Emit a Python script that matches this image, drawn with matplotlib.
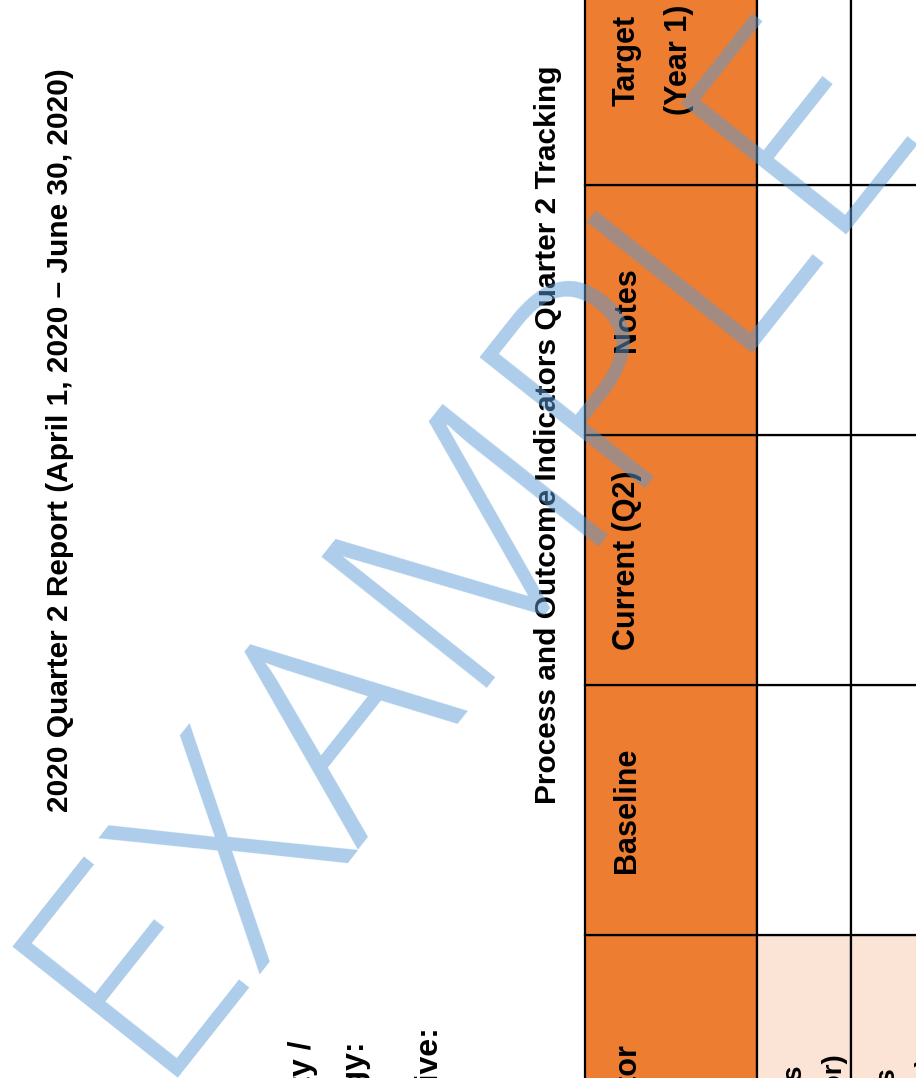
import matplotlib
matplotlib.use("Agg")
import matplotlib.pyplot as plt
from matplotlib.patches import Rectangle

# ---- content ----
title_main = "2020 Quarter 2 Report (April 1, 2020 – June 30, 2020)"
title_table = "Process and Outcome Indicators Quarter 2 Tracking"
side_labels = ["Priority /", "Strategy:", "Objective:"]
columns = ["Indicator", "Baseline", "Current (Q2)", "Notes", "Target\n(Year 1)"]
row_labels = [["Process Indicators", "(Indicator)"],
              ["Outcome Indicators", "(Indicator)"]]
watermark = "EXAMPLE"

ORANGE = "#ED7D31"
PEACH = "#FBE4D5"
WM = "#5B9BD5"

W, H = 916, 1078
fig = plt.figure(figsize=(W / 100, H / 100), dpi=100)
ax = fig.add_axes([0, 0, 1, 1])
ax.set_xlim(0, W)
ax.set_ylim(H, 0)
ax.axis("off")

BOLD = dict(family=["Liberation Sans", "DejaVu Sans"], fontweight="bold")

# titles (rotated page)
ax.text(68, 440, title_main, rotation=90, rotation_mode="anchor",
        ha="center", va="baseline", fontsize=21.5, color="black", **BOLD)
ax.text(556, 435, title_table, rotation=90, rotation_mode="anchor",
        ha="center", va="baseline", fontsize=21.5, color="black", **BOLD)

# side labels (cut by page edge)
side_x = [311, 363, 437]
side_end = [1040, 1040, 1025]
for lab, x, ye in zip(side_labels, side_x, side_end):
    ax.text(x, ye, lab, rotation=90, rotation_mode="anchor",
            ha="right", va="baseline", fontsize=23, color="black", **BOLD)

# table geometry (page rotated 90 deg)
col_edges = [1185, 935, 685, 435, 185, -65]   # along image y
row_edges = [585, 757, 851, 945]                # along image x
LW = 1.6

for j in range(len(columns)):
    y0, y1 = col_edges[j + 1], col_edges[j]
    for i in range(len(row_edges) - 1):
        x0, x1 = row_edges[i], row_edges[i + 1]
        if i == 0:
            fc = ORANGE
        elif j == 0:
            fc = PEACH
        else:
            fc = "white"
        ax.add_patch(Rectangle((x0, y0), x1 - x0, y1 - y0, facecolor=fc,
                               edgecolor="black", linewidth=LW, zorder=2))

# header texts
for j, name in enumerate(columns):
    yc = (col_edges[j] + col_edges[j + 1]) / 2
    lines = name.split("\n")
    for k, ln in enumerate(lines):
        bx = 635 + 52 * k
        if j == 0:
            ax.text(bx, 1043, ln, rotation=90, rotation_mode="anchor",
                    ha="right", va="baseline", fontsize=22, zorder=3, **BOLD)
        else:
            ax.text(bx, yc, ln, rotation=90, rotation_mode="anchor",
                    ha="center", va="baseline", fontsize=22, zorder=3, **BOLD)

# row indicator texts (mostly beyond the page edge)
row_base = [[802, 841], [895, 934]]
row_end = [[1065, 1052], [1068, 1055]]
for labs, bxs, yes in zip(row_labels, row_base, row_end):
    for lab, bx, ye in zip(labs, bxs, yes):
        ax.text(bx, ye, lab, rotation=90, rotation_mode="anchor",
                ha="right", va="baseline", fontsize=20, zorder=3, **BOLD)

# watermark
wm = ax.text(533, 592, watermark, rotation=51.6, rotation_mode="anchor",
             ha="center", va="baseline", fontsize=100, color=WM, alpha=0.5,
             family=["Open Sans", "Liberation Sans"], fontweight=300,
             zorder=10)
fig.canvas.draw()
r = fig.canvas.get_renderer()
wm.set_rotation(0)
bb = wm.get_window_extent(r)
wm.set_fontsize(100 * 1240 / bb.width)
wm.set_rotation(51.6)

fig.savefig("out.png", dpi=100)
